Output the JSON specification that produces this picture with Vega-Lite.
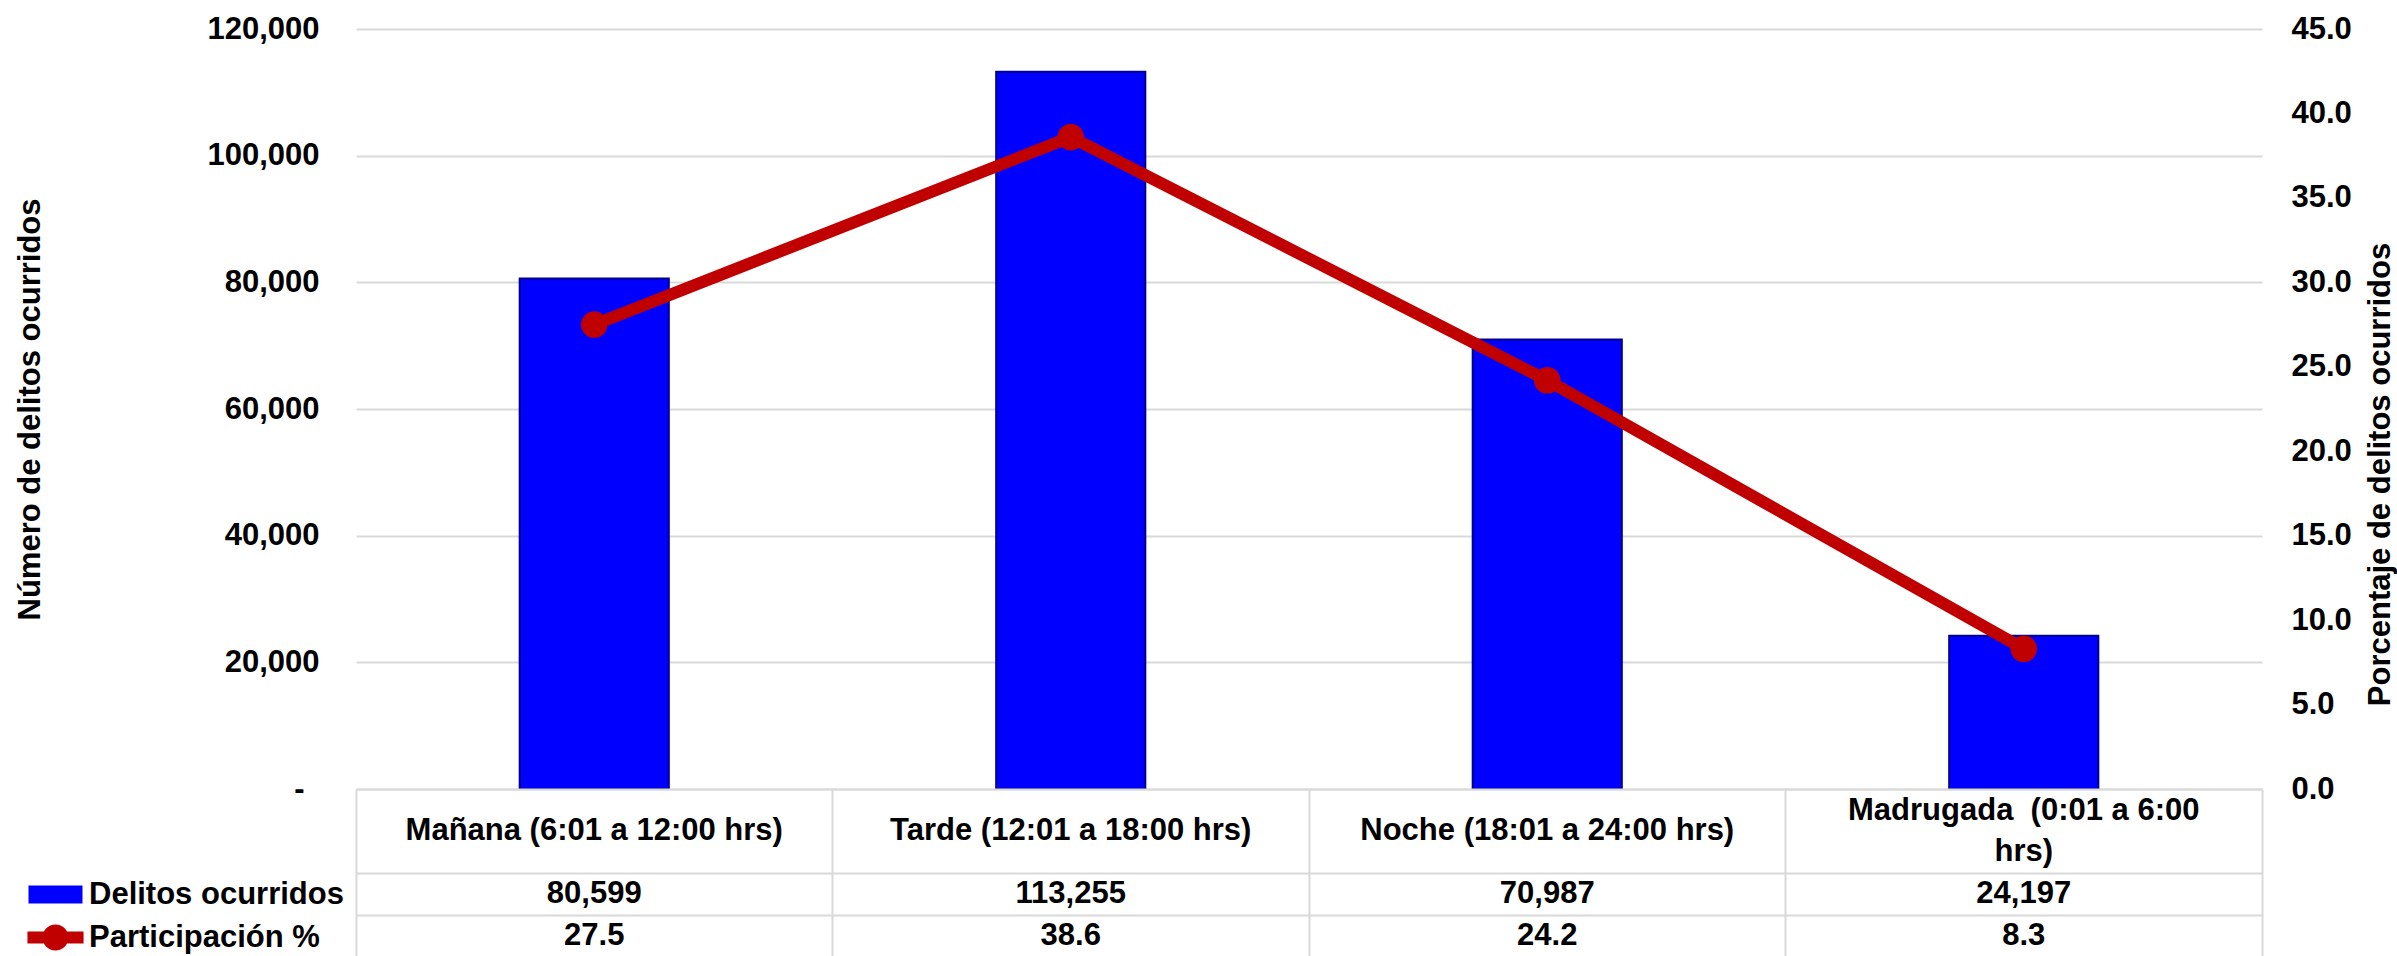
{
  "$schema": "https://vega.github.io/schema/vega-lite/v6.json",
  "background": "white",
  "padding": {"left": 14, "top": 13, "right": 0, "bottom": 0},
  "datasets": {
    "main": [
      {"periodo": "Mañana (6:01 a 12:00 hrs)", "delitos": 80599, "participacion": 27.5},
      {"periodo": "Tarde (12:01 a 18:00 hrs)", "delitos": 113255, "participacion": 38.6},
      {"periodo": "Noche (18:01 a 24:00 hrs)", "delitos": 70987, "participacion": 24.2},
      {"periodo": "Madrugada\u00a0 (0:01 a 6:00\nhrs)", "delitos": 24197, "participacion": 8.3}
    ]
  },
  "spacing": 0,
  "bounds": "flush",
  "vconcat": [
    {
      "width": 1906,
      "height": 760,
      "data": {"name": "main"},
      "layer": [
        {
          "mark": {"type": "bar", "width": {"band": 0.313}, "stroke": "#00008C", "strokeWidth": 2},
          "encoding": {
            "x": {"field": "periodo", "type": "nominal", "sort": null, "axis": null,
                  "scale": {"type": "band", "paddingInner": 0, "paddingOuter": 0}},
            "y": {"field": "delitos", "type": "quantitative",
                  "scale": {"domain": [0, 120000], "nice": false},
                  "axis": {"values": [0, 20000, 40000, 60000, 80000, 100000, 120000], "format": ",.0f",
                           "labelExpr": "datum.value === 0 ? '-' : datum.label",
                           "labelPadding": {"condition": {"test": "datum.value === 0", "value": 52}, "value": 37},
                           "domain": false, "ticks": false, "grid": true, "gridColor": "#D9D9D9", "gridWidth": 2,
                           "title": "Número de delitos ocurridos", "titlePadding": 160}},
            "color": {"datum": "Delitos ocurridos", "type": "nominal",
                      "scale": {"domain": ["Delitos ocurridos", "Participación %"], "range": ["#0000FF", "#C00000"]},
                      "legend": {
                        "orient": "none", "legendX": -316, "legendY": 850, "direction": "vertical",
                        "title": null, "labelFontSize": 31, "labelFontWeight": "bold", "labelFont": "Liberation Sans",
                        "labelColor": "black", "labelLimit": 0, "symbolSize": 900, "symbolStrokeWidth": 0,
                        "labelOffset": 18, "rowPadding": 11,
                        "encode": {"symbols": {"update": {
                          "shape": {"signal": "datum.value === 'Delitos ocurridos' ? 'M-1.8,-0.6H1.8V0.6H-1.8Z' : 'M-1.87,-0.4H1.87V0.4H-1.87Z M-0.87,0A0.87,0.87 0 1,1 0.87,0A0.87,0.87 0 1,1 -0.87,0Z'"},
                          "size": {"value": 900},
                          "strokeWidth": {"value": 0},
                          "fill": {"signal": "datum.value === 'Delitos ocurridos' ? '#0000FF' : '#C00000'"},
                          "opacity": {"value": 1}
                        }}}
                      }}
          }
        },
        {
          "mark": {"type": "line", "strokeWidth": 12, "point": {"filled": true, "size": 707}},
          "encoding": {
            "x": {"field": "periodo", "type": "nominal", "sort": null, "axis": null},
            "y": {"field": "participacion", "type": "quantitative",
                  "scale": {"domain": [0, 45], "nice": false},
                  "axis": {"orient": "right", "values": [0, 5, 10, 15, 20, 25, 30, 35, 40, 45], "format": ".1f",
                           "labelAlign": "left", "labelPadding": 29, "domain": false, "ticks": false, "grid": false,
                           "title": "Porcentaje de delitos ocurridos", "titleAngle": 270, "titleBaseline": "top",
                           "titlePadding": 14, "titleY": 445}},
            "color": {"datum": "Participación %", "type": "nominal",
                      "legend": {
                        "orient": "none", "legendX": -316, "legendY": 850, "direction": "vertical",
                        "title": null, "labelFontSize": 31, "labelFontWeight": "bold", "labelFont": "Liberation Sans",
                        "labelColor": "black", "labelLimit": 0, "symbolSize": 900, "symbolStrokeWidth": 0,
                        "labelOffset": 18, "rowPadding": 11,
                        "encode": {"symbols": {"update": {
                          "shape": {"signal": "datum.value === 'Delitos ocurridos' ? 'M-1.8,-0.6H1.8V0.6H-1.8Z' : 'M-1.87,-0.4H1.87V0.4H-1.87Z M-0.87,0A0.87,0.87 0 1,1 0.87,0A0.87,0.87 0 1,1 -0.87,0Z'"},
                          "size": {"value": 900},
                          "strokeWidth": {"value": 0},
                          "fill": {"signal": "datum.value === 'Delitos ocurridos' ? '#0000FF' : '#C00000'"},
                          "opacity": {"value": 1}
                        }}}
                      }}
          }
        }
      ],
      "resolve": {"scale": {"y": "independent"}}
    },
    {
      "width": 1906,
      "height": 168,
      "data": {"name": "main"},
      "layer": [
        {
          "transform": [{"filter": "indexof(datum.periodo, '\\n') < 0"}],
          "mark": {"type": "text", "baseline": "middle"},
          "encoding": {
            "x": {"field": "periodo", "type": "nominal", "sort": null,
                  "scale": {"type": "band", "paddingInner": 0, "paddingOuter": 0},
                  "axis": {"orient": "top", "bandPosition": 0, "labels": false, "ticks": false,
                           "domain": true, "domainColor": "#D9D9D9", "domainWidth": 2,
                           "grid": true, "gridColor": "#D9D9D9", "gridWidth": 2, "title": null}},
            "y": {"datum": "Encabezado", "type": "nominal", "bandPosition": 1,
                  "scale": {"type": "band", "domain": ["Encabezado", "Encabezado2", "Delitos ocurridos", "Participación %"],
                            "paddingInner": 0, "paddingOuter": 0},
                  "axis": {"values": ["Delitos ocurridos", "Participación %"], "bandPosition": 0, "labels": false,
                           "ticks": true, "tickSize": 334, "tickColor": "#D9D9D9", "tickWidth": 2,
                           "domain": true, "domainColor": "#D9D9D9", "domainWidth": 2,
                           "grid": true, "gridColor": "#D9D9D9", "gridWidth": 2, "title": null}},
            "text": {"field": "periodo", "type": "nominal"}
          }
        },
        {
          "transform": [{"filter": "indexof(datum.periodo, '\\n') >= 0"}],
          "mark": {"type": "text", "lineBreak": "\n", "lineHeight": 41, "baseline": "middle"},
          "encoding": {
            "x": {"field": "periodo", "type": "nominal", "sort": null},
            "y": {"datum": "Encabezado", "type": "nominal", "bandPosition": 0.52},
            "text": {"field": "periodo", "type": "nominal"}
          }
        },
        {
          "mark": {"type": "text", "baseline": "middle"},
          "encoding": {
            "x": {"field": "periodo", "type": "nominal", "sort": null},
            "y": {"datum": "Delitos ocurridos", "type": "nominal"},
            "text": {"field": "delitos", "type": "quantitative", "format": ","}
          }
        },
        {
          "mark": {"type": "text", "baseline": "middle"},
          "encoding": {
            "x": {"field": "periodo", "type": "nominal", "sort": null},
            "y": {"datum": "Participación %", "type": "nominal",
                  "axis": {"orient": "right", "labels": false, "ticks": false, "tickSize": 0, "tickOpacity": 0,
                           "tickColor": "transparent", "grid": false,
                           "domain": true, "domainColor": "#D9D9D9", "domainWidth": 2, "title": null}},
            "text": {"field": "participacion", "type": "quantitative", "format": ".1f"}
          }
        }
      ]
    }
  ],
  "config": {
    "font": "Liberation Sans",
    "view": {"stroke": null},
    "axis": {"labelFont": "Liberation Sans", "titleFont": "Liberation Sans", "labelFontWeight": "bold",
             "titleFontWeight": "bold", "labelColor": "black", "titleColor": "black",
             "labelFontSize": 31, "titleFontSize": 31},
    "text": {"font": "Liberation Sans", "fontSize": 31, "fontWeight": "bold", "color": "black"}
  }
}
